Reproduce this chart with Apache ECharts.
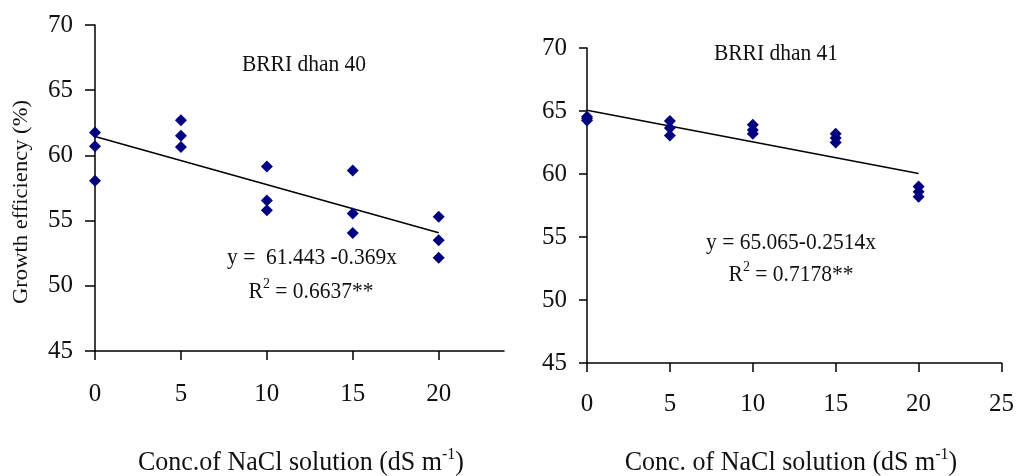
<!DOCTYPE html>
<html>
<head>
<meta charset="utf-8">
<script src="https://cdn.jsdelivr.net/npm/echarts@6/dist/echarts.min.js"></script>
<style>
  html, body { margin: 0; padding: 0; background: #fff; }
  #chart { width: 1017px; height: 476px; }
</style>
</head>
<body>
<div id="chart"></div>
<script>
// values
const xTicks = [0, 5, 10, 15, 20]
const xTicksRight = [0, 5, 10, 15, 20, 25]

const conc40 = [0, 0, 0, 5, 5, 5, 10, 10, 10, 15, 15, 15, 20, 20, 20]
const growth40 = [61.75, 60.7, 58.05, 62.7, 61.5, 60.65, 59.15, 56.55, 55.8, 58.85, 55.55, 54.05, 55.3, 53.5, 52.15]
const trend40 = [[0, 61.443], [20, 54.063]]

const conc41 = [0, 0, 0, 5, 5, 5, 10, 10, 10, 15, 15, 15, 20, 20, 20]
const growth41 = [64.55, 64.4, 64.25, 64.2, 63.65, 63.05, 63.9, 63.5, 63.2, 63.2, 62.85, 62.5, 59.0, 58.6, 58.2]
const trend41 = [[0, 65.065], [20, 60.037]]

const font = '"Liberation Serif", "Times New Roman", serif'
const navy = '#000080'

const toPairs = (xs, ys) => xs.map((x, i) => [x, ys[i]])

const yAxisOf = (gridIndex, tickLen, margin) => ({
    type: 'value',
    gridIndex: gridIndex,
    min: 45,
    max: 70,
    interval: 5,
    splitLine: { show: false },
    axisLine: { show: true, lineStyle: { color: '#000', width: 1.5 } },
    axisTick: { show: true, inside: false, length: tickLen, lineStyle: { color: '#000', width: 1.5 } },
    axisLabel: { color: '#111', fontFamily: font, fontSize: 25, margin: margin }
})

const xAxisOf = (gridIndex, max, ticks, margin) => ({
    type: 'value',
    gridIndex: gridIndex,
    min: 0,
    max: max,
    interval: 5,
    splitLine: { show: false },
    axisLine: { show: true, onZero: false, lineStyle: { color: '#000', width: 1.5 } },
    axisTick: { show: true, length: 9, customValues: ticks, lineStyle: { color: '#000', width: 1.5 } },
    axisLabel: { color: '#111', fontFamily: font, fontSize: 25, margin: margin, customValues: ticks }
})

const scatterOf = (idx, data) => ({
    type: 'scatter',
    xAxisIndex: idx,
    yAxisIndex: idx,
    data: data,
    symbol: 'diamond',
    symbolSize: [12, 12],
    itemStyle: { color: navy, opacity: 1 },
    z: 3
})

const trendOf = (idx, data) => ({
    type: 'line',
    xAxisIndex: idx,
    yAxisIndex: idx,
    data: data,
    symbol: 'none',
    lineStyle: { color: '#000', width: 1.5 },
    z: 2
})

const rich = {
    n: { fontFamily: font, fontSize: 21.5, color: '#111' },
    s: { fontFamily: font, fontSize: 14, color: '#111', padding: [0, 0, 14, 0] },
    a: { fontFamily: font, fontSize: 26, color: '#111' },
    b: { fontFamily: font, fontSize: 16, color: '#111', padding: [0, 0, 15, 0] }
}

const label = (x, y, text, extra) => Object.assign({
    type: 'text',
    x: x,
    y: y,
    scaleY: 1.08,
    style: { text: text, rich: rich, align: 'center', verticalAlign: 'middle', fill: '#111' }
}, extra || {})

const chart = echarts.init(document.getElementById('chart'), null, { renderer: 'canvas' })

const option = {
    animation: false,
    backgroundColor: '#fff',
    grid: [
        { left: 95, top: 25, width: 409, height: 326 },
        { left: 587, top: 48, width: 415, height: 315 }
    ],
    xAxis: [
        xAxisOf(0, 23.8, xTicks, 31),
        xAxisOf(1, 25, xTicksRight, 29)
    ],
    yAxis: [
        yAxisOf(0, 10, 22),
        yAxisOf(1, 8, 20)
    ],
    series: [
        scatterOf(0, toPairs(conc40, growth40)),
        trendOf(0, trend40),
        scatterOf(1, toPairs(conc41, growth41)),
        trendOf(1, trend41)
    ],
    graphic: [
        label(304, 65, '{n|BRRI dhan 40}'),
        label(312, 258, '{n|y =  61.443 -0.369x}'),
        label(311, 292, '{n|R}{s|2}{n| = 0.6637**}'),
        label(776, 54, '{n|BRRI dhan 41}'),
        label(791, 243, '{n|y = 65.065-0.2514x}'),
        label(791, 275, '{n|R}{s|2}{n| = 0.7178**}'),
        label(21, 202, '{n|Growth efficiency (%)}', { rotation: Math.PI / 2, scaleY: 1, scaleX: 1.05 }),
        label(301, 463, '{a|Conc.of NaCl solution (dS m}{b|-1}{a|)}'),
        label(791, 463, '{a|Conc. of NaCl solution (dS m}{b|-1}{a|)}')
    ]
}

chart.setOption(option)
</script>
</body>
</html>
